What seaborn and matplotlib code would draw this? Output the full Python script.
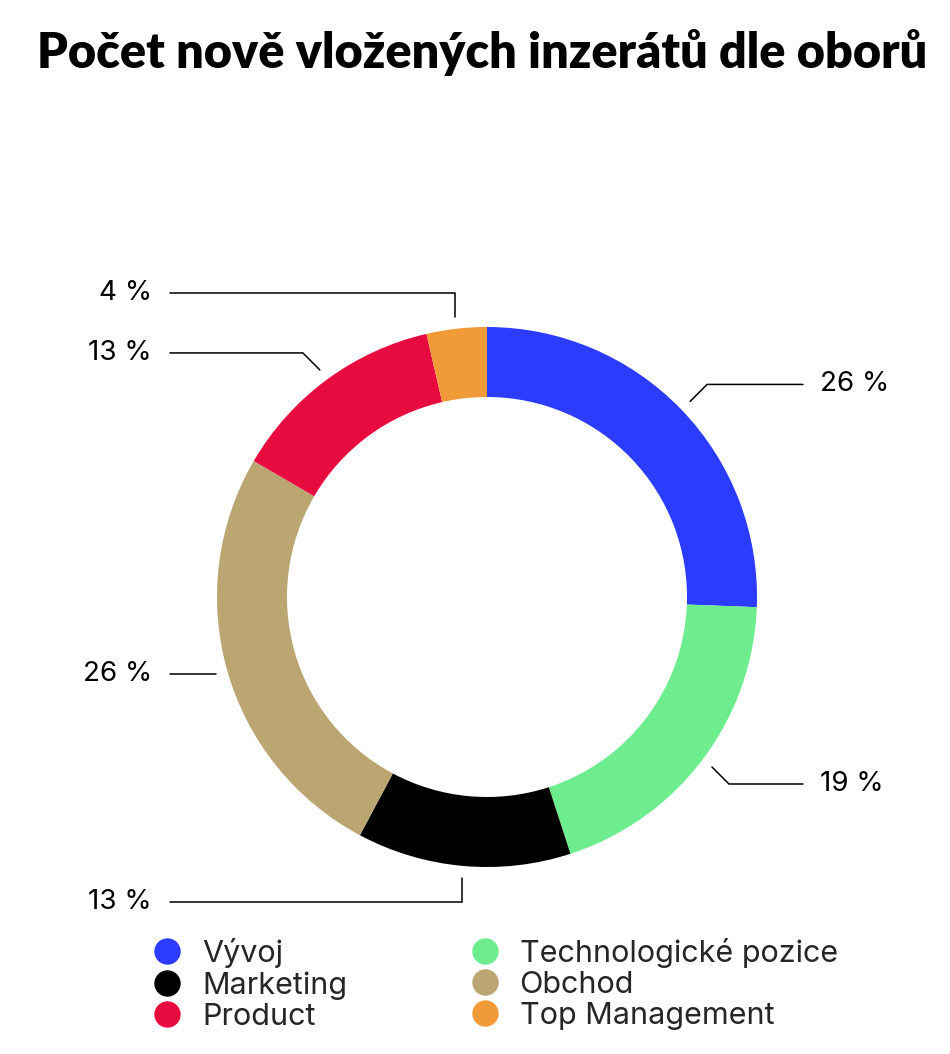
"""Donut chart: count of newly posted job ads by field."""

import matplotlib.pyplot as plt
import numpy as np
import seaborn as sns
from matplotlib.lines import Line2D

sns.set_theme(style="white")
plt.rcParams["font.family"] = ["Inter", "DejaVu Sans"]

TITLE = "Počet nově vložených inzerátů dle oborů"

# slices in drawing order (clockwise from 12 o'clock)
CATEGORIES = ["Vývoj", "Technologické pozice", "Marketing", "Obchod", "Product", "Top Management"]
SHARES = [25.6, 19.4, 12.8, 25.6, 13.0, 3.6]
COLORS = ["#2b3cff", "#6eed8e", "#000000", "#bba571", "#e80b40", "#f19a38"]

# legend is read column by column
LEGEND_ORDER = ["Vývoj", "Marketing", "Product", "Technologické pozice", "Obchod", "Top Management"]

OUTER_R = 270
RING_W = 70
ANCHOR_R = 282
ELBOW_LEN = 24
LINE_X = {"right": 316, "left": -317}
TEXT_X = {"right": 333, "left": -335}

fig = plt.figure(figsize=(9.5, 10.54), dpi=100)
ax = fig.add_axes([0, 0, 1, 1])

wedges, _ = ax.pie(
    SHARES,
    colors=COLORS,
    startangle=90,
    counterclock=False,
    radius=OUTER_R,
    wedgeprops=dict(width=RING_W, linewidth=0),
)
ax.set_xlim(-487, 463)
ax.set_ylim(-457, 597)
ax.set_aspect("equal")
ax.axis("off")

# leader lines: short segment snapped to 45 degrees, then horizontal to the label
total = sum(SHARES)
for wedge, share in zip(wedges, SHARES):
    mid = np.deg2rad((wedge.theta1 + wedge.theta2) / 2)
    snap = np.round(mid / (np.pi / 4)) * (np.pi / 4)
    ax0, ay0 = ANCHOR_R * np.cos(mid), ANCHOR_R * np.sin(mid)
    ex, ey = ax0 + ELBOW_LEN * np.cos(snap), ay0 + ELBOW_LEN * np.sin(snap)
    side = "right" if np.cos(mid) > 0 else "left"
    ax.plot([ax0, ex, LINE_X[side]], [ay0, ey, ey], color="black", lw=1.1,
            solid_joinstyle="miter")
    pct = round(share / total * 100)
    ax.text(TEXT_X[side], ey, f"{pct} %", fontsize=20, va="center",
            ha="left" if side == "right" else "right", color="black")

fig.text(37 / 950, 1 - 52 / 1054, TITLE, fontsize=35, fontweight="heavy",
         family=["Lato", "DejaVu Sans"], ha="left", va="center", color="black")

color_of = dict(zip(CATEGORIES, COLORS))
handles = [
    Line2D([], [], ls="", marker="o", markersize=19, markerfacecolor=color_of[c],
           markeredgewidth=0, label=c)
    for c in LEGEND_ORDER
]
fig.legend(
    handles=handles,
    ncol=2,
    loc="upper left",
    bbox_to_anchor=(152 / 950, 1 - 938 / 1054),
    frameon=False,
    fontsize=22,
    handlelength=1.0,
    handletextpad=0.64,
    columnspacing=4.0,
    labelspacing=0.1,
    borderpad=0,
    borderaxespad=0,
)

fig.savefig("out.png", dpi=100, facecolor="white")
